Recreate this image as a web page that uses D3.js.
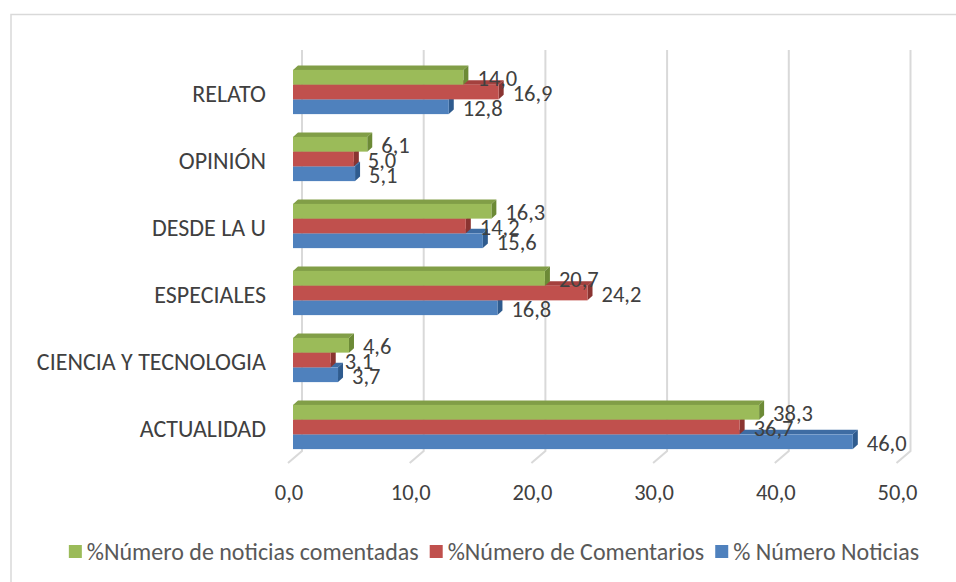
<!DOCTYPE html>
<html>
<head>
<meta charset="utf-8">
<script src="https://cdn.jsdelivr.net/npm/d3@7.9.0/dist/d3.min.js"></script>
<style>
  body { margin: 0; background: #fff; }
  svg { display: block; font-family: Carlito, Calibri, Lato, sans-serif; }
</style>
</head>
<body>
<svg id="chart" width="956" height="582"></svg>
<script>
// categories, top to bottom
const categories = ["RELATO", "OPINIÓN", "DESDE LA U", "ESPECIALES", "CIENCIA Y TECNOLOGIA", "ACTUALIDAD"];
const seriesNames = ["%Número de noticias comentadas", "%Número de Comentarios", "% Número Noticias"];
const comentadas = [14.0, 6.1, 16.3, 20.7, 4.6, 38.3];
const comentarios = [16.9, 5.0, 14.2, 24.2, 3.1, 36.7];
const noticias = [12.8, 5.1, 15.6, 16.8, 3.7, 46.0];
const ticks = [0, 10, 20, 30, 40, 50];

const colors = ["#9BBB59", "#C0504D", "#4F81BD"];
const topColors = ["#819E47", "#A4413E", "#3E6CA3"];
const sideColors = ["#6C8A36", "#8A3431", "#2F5B8E"];

const seriesValues = [comentadas, comentarios, noticias];

const svg = d3.select("#chart");

// chart frame (only top and left edges are inside the picture)
svg.append("path")
  .attr("d", "M11,600 L11,14.5 L960,14.5")
  .attr("fill", "none")
  .attr("stroke", "#d9d9d9")
  .attr("stroke-width", 1.5);

const x = d3.scaleLinear().domain([0, 50]).range([293, 901.5]);
const y = d3.scaleBand().domain(categories).range([58.5, 460.5])
  .paddingInner(0.34).paddingOuter(0.17);
const ySub = d3.scaleBand().domain(d3.range(3)).range([0, y.bandwidth()]);

const dx = 5, dy = 4.5;

// gridlines with floor diagonals
svg.append("g").selectAll("path")
  .data(ticks)
  .join("path")
  .attr("d", d => `M${x(d) + 9},50 L${x(d) + 9},451 L${x(d) - 5},463`)
  .attr("fill", "none")
  .attr("stroke", "#d9d9d9")
  .attr("stroke-width", 2);

// tick labels
svg.append("g").selectAll("text")
  .data(ticks)
  .join("text")
  .attr("x", d => x(d) - 4)
  .attr("y", 500)
  .attr("text-anchor", "middle")
  .attr("font-size", 22.5)
  .attr("fill", "#404040")
  .text(d => d3.format(".1f")(d).replace(".", ","));

// category labels
svg.append("g").selectAll("text")
  .data(categories)
  .join("text")
  .attr("x", 266)
  .attr("y", d => y(d) + y.bandwidth() / 2 + 10)
  .attr("text-anchor", "end")
  .attr("font-size", 24)
  .attr("fill", "#404040")
  .text(d => d);

// bars: draw bottom (blue) first, so upper bars cover their top faces
const bars = svg.append("g");
categories.forEach((c, ci) => {
  [2, 1, 0].forEach(si => {
    const v = seriesValues[si][ci];
    const x0 = x(0), x1 = x(v);
    const y0 = y(c) + ySub(si);
    const h = ySub.bandwidth();
    const g = bars.append("g");
    g.append("path")
      .attr("d", `M${x0},${y0} L${x0 + dx},${y0 - dy} L${x1 + dx},${y0 - dy} L${x1},${y0} Z`)
      .attr("fill", topColors[si]);
    g.append("path")
      .attr("d", `M${x1},${y0} L${x1 + dx},${y0 - dy} L${x1 + dx},${y0 + h - dy} L${x1},${y0 + h} Z`)
      .attr("fill", sideColors[si]);
    g.append("rect")
      .attr("x", x0)
      .attr("y", y0)
      .attr("width", x1 - x0)
      .attr("height", h)
      .attr("fill", colors[si]);
  });
});

// data labels
categories.forEach((c, ci) => {
  [2, 1, 0].forEach(si => {
    const v = seriesValues[si][ci];
    svg.append("text")
      .attr("x", x(v) + 14)
      .attr("y", y(c) + ySub(si) + ySub.bandwidth() / 2 + 9)
      .attr("font-size", 22.5)
      .attr("fill", "#404040")
      .text(d3.format(".1f")(v).replace(".", ","));
  });
});

// legend
const legend = svg.append("g");
let lx = 0;
seriesNames.forEach((name, i) => {
  const item = legend.append("g").attr("transform", `translate(${lx},0)`);
  item.append("rect")
    .attr("x", 0).attr("y", 545)
    .attr("width", 13).attr("height", 13)
    .attr("fill", colors[i]);
  const t = item.append("text")
    .attr("x", 18)
    .attr("y", 559.5)
    .attr("font-size", 24)
    .attr("fill", "#595959")
    .text(name);
  lx += 18 + t.node().getComputedTextLength() + 11;
});
const legendWidth = lx - 11;
legend.attr("transform", `translate(${494 - legendWidth / 2},0)`);
</script>
</body>
</html>
